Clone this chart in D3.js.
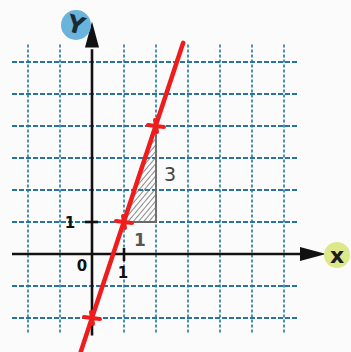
<!DOCTYPE html>
<html>
<head>
<meta charset="utf-8">
<script src="https://cdn.jsdelivr.net/npm/d3@7"></script>
<style>
  body { margin: 0; background: #fbfbfb; }
  svg { display: block; }
</style>
</head>
<body>
<div id="chart-area"></div>
<script>
// grid values (unit squares)
var gridX = [-2, -1, 1, 2, 3, 4, 5, 6];
var gridY = [-2, -1, 1, 2, 3, 4, 5, 6];
// the red line y = 3x - 2
var lineEnds = [[-0.35, -3.05], [2.85, 6.6]];
var points = [[0, -2], [1, 1], [2, 4]];
// slope triangle
var triangle = [[1, 1], [2, 1], [2, 4]];
var tickLabels = [{ axis: "x", v: 1, text: "1" }, { axis: "y", v: 1, text: "1" }];
var originLabel = "0";
var riseLabel = "3", runLabel = "1";

var width = 351, height = 352;

var svg = d3.select("#chart-area")
    .append("svg")
        .attr("width", width)
        .attr("height", height);

var x = d3.scaleLinear().domain([-2, 6]).range([28, 284]);
var y = d3.scaleLinear().domain([-2, 6]).range([318, 62]);

var gridColor = "#26759e";

// hatch pattern
var defs = svg.append("defs");
var pat = defs.append("pattern")
    .attr("id", "hatch")
    .attr("patternUnits", "userSpaceOnUse")
    .attr("width", 4)
    .attr("height", 4)
    .attr("patternTransform", "rotate(-50)");
pat.append("line")
    .attr("x1", 0).attr("y1", 0)
    .attr("x2", 4).attr("y2", 0)
    .attr("stroke", "#666")
    .attr("stroke-width", 1.5);

// Grid
svg.selectAll(".vgrid").data(gridX).enter().append("line")
    .attr("class", "vgrid")
    .attr("x1", function(d){ return x(d); })
    .attr("x2", function(d){ return x(d); })
    .attr("y1", y(6.55))
    .attr("y2", y(-2.5))
    .attr("stroke", gridColor)
    .attr("stroke-width", 1.6)
    .attr("stroke-dasharray", "3,2");

svg.selectAll(".hgrid").data(gridY).enter().append("line")
    .attr("class", "hgrid")
    .attr("y1", function(d){ return y(d); })
    .attr("y2", function(d){ return y(d); })
    .attr("x1", x(-2.5))
    .attr("x2", x(6.45))
    .attr("stroke", gridColor)
    .attr("stroke-width", 1.8)
    .attr("stroke-dasharray", "5,2");

// Slope triangle
var tri = d3.line().x(function(d){ return x(d[0]); }).y(function(d){ return y(d[1]); });
svg.append("path")
    .attr("d", tri(triangle) + "Z")
    .attr("fill", "url(#hatch)")
    .attr("stroke", "none");
svg.append("path")
    .attr("d", tri(triangle))
    .attr("fill", "none")
    .attr("stroke", "#6a6a6a")
    .attr("stroke-width", 1.8);

svg.append("text")
    .attr("x", x(2) + 8)
    .attr("y", y(2.5) + 7)
    .attr("font-family", "DejaVu Sans")
    .attr("font-size", "19px")
    .attr("fill", "#444")
    .text(riseLabel);
svg.append("text")
    .attr("x", x(1.5) - 6)
    .attr("y", y(0.5) + 8)
    .attr("font-family", "DejaVu Sans")
    .attr("font-size", "17px")
    .attr("font-weight", "bold")
    .attr("fill", "#555")
    .text(runLabel);

// Axes
svg.append("line")
    .attr("x1", x(-2.5)).attr("x2", x(6.55))
    .attr("y1", y(0)).attr("y2", y(0))
    .attr("stroke", "#111").attr("stroke-width", 2.6);
svg.append("path")
    .attr("d", "M" + x(6.5) + "," + (y(0) - 7) + "L" + (x(6.5) + 26) + "," + y(0) + "L" + x(6.5) + "," + (y(0) + 7) + "Z")
    .attr("fill", "#111");

svg.append("line")
    .attr("x1", x(0)).attr("x2", x(0))
    .attr("y1", y(-2.55)).attr("y2", y(6.4))
    .attr("stroke", "#111").attr("stroke-width", 2.6);
svg.append("path")
    .attr("d", "M" + (x(0) - 7) + "," + y(6.45) + "L" + x(0) + "," + (y(6.45) - 26) + "L" + (x(0) + 7) + "," + y(6.45) + "Z")
    .attr("fill", "#111");

// ticks
tickLabels.forEach(function(t){
    if (t.axis == "x") {
        svg.append("line")
            .attr("x1", x(t.v)).attr("x2", x(t.v))
            .attr("y1", y(0) - 6).attr("y2", y(0) + 7)
            .attr("stroke", "#111").attr("stroke-width", 2.6);
        svg.append("text")
            .attr("x", x(t.v) - 1).attr("y", y(0) + 24)
            .attr("text-anchor", "middle")
            .attr("font-family", "DejaVu Sans").attr("font-weight", "bold")
            .attr("font-size", "15px").attr("fill", "#111")
            .text(t.text);
    } else {
        svg.append("line")
            .attr("x1", x(0) - 7).attr("x2", x(0) + 6)
            .attr("y1", y(t.v)).attr("y2", y(t.v))
            .attr("stroke", "#111").attr("stroke-width", 2.6);
        svg.append("text")
            .attr("x", x(0) - 22).attr("y", y(t.v) + 6)
            .attr("text-anchor", "middle")
            .attr("font-family", "DejaVu Sans").attr("font-weight", "bold")
            .attr("font-size", "15px").attr("fill", "#111")
            .text(t.text);
    }
});
svg.append("text")
    .attr("x", x(0) - 10).attr("y", y(0) + 17)
    .attr("text-anchor", "middle")
    .attr("font-family", "DejaVu Sans").attr("font-weight", "bold")
    .attr("font-size", "15px").attr("fill", "#111")
    .text(originLabel);

// axis names in coloured blobs
svg.append("circle")
    .attr("cx", 76).attr("cy", 25).attr("r", 15)
    .attr("fill", "#6ab4dc");
svg.append("text")
    .attr("x", 76).attr("y", 33)
    .attr("text-anchor", "middle")
    .attr("font-family", "DejaVu Sans").attr("font-weight", "bold")
    .attr("font-size", "24px").attr("fill", "#1c2a36")
    .attr("transform", "rotate(15,76,25)")
    .text("Y");

svg.append("circle")
    .attr("cx", 337).attr("cy", 255).attr("r", 13)
    .attr("fill", "#dde88a");
svg.append("text")
    .attr("x", 337).attr("y", 263)
    .attr("text-anchor", "middle")
    .attr("font-family", "DejaVu Sans").attr("font-weight", "bold")
    .attr("font-size", "22px").attr("fill", "#1c1c1c")
    .text("x");

// Red line
svg.append("line")
    .attr("x1", x(lineEnds[0][0])).attr("y1", y(lineEnds[0][1]))
    .attr("x2", x(lineEnds[1][0])).attr("y2", y(lineEnds[1][1]))
    .attr("stroke", "#ee1c1c")
    .attr("stroke-width", 4.5)
    .attr("stroke-linecap", "round");

// point marks
svg.selectAll(".pt").data(points).enter().append("path")
    .attr("class", "pt")
    .attr("transform", function(d){ return "translate(" + x(d[0]) + "," + y(d[1]) + ")"; })
    .attr("d", "M-8,-1L8,1M-1,-6L1,6")
    .attr("stroke", "#ee1c1c")
    .attr("stroke-width", 4)
    .attr("stroke-linecap", "round")
    .attr("fill", "none");
</script>
</body>
</html>
